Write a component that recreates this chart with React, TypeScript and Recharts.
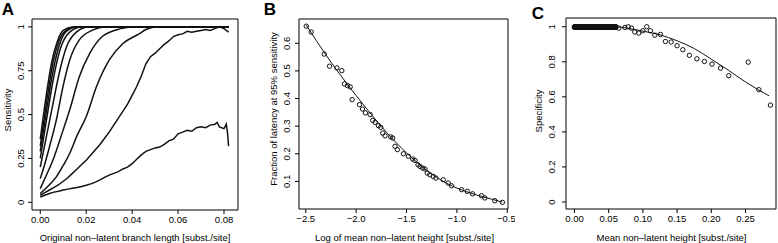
import React from 'react'
import { ComposedChart, Line, Scatter, XAxis, YAxis, ReferenceArea } from 'recharts'

const FONT = '"Liberation Sans", Arial, Helvetica, sans-serif'
const INK = '#111'

// ---- Panel A: sensitivity vs original non-latent branch length ----
// smooth curves (steepest first)
const sensA1: [number, number][] = [[0, 0.36], [0.0025, 0.6], [0.005, 0.8], [0.0075, 0.92], [0.01, 0.98], [0.014, 1], [0.082, 1]]
const sensA2: [number, number][] = [[0, 0.32], [0.0025, 0.55], [0.005, 0.76], [0.0075, 0.895], [0.01, 0.965], [0.015, 1], [0.082, 1]]
const sensA3: [number, number][] = [[0, 0.29], [0.0026, 0.51], [0.005, 0.71], [0.0075, 0.86], [0.011, 0.97], [0.016, 1], [0.082, 1]]
const sensA4: [number, number][] = [[0, 0.25], [0.0026, 0.46], [0.0055, 0.69], [0.0085, 0.865], [0.0128, 0.97], [0.018, 1], [0.082, 1]]
const sensA5: [number, number][] = [[0, 0.2], [0.0026, 0.37], [0.0055, 0.56], [0.0085, 0.75], [0.0114, 0.885], [0.0157, 0.97], [0.021, 1], [0.082, 1]]
const sensA6: [number, number][] = [[0, 0.135], [0.002, 0.22], [0.004, 0.316], [0.007, 0.47], [0.0099, 0.66], [0.0128, 0.81], [0.017, 0.926], [0.023, 0.983], [0.028, 1], [0.082, 1]]
const sensA7: [number, number][] = [[0, 0.078], [0.0025, 0.15], [0.0055, 0.24], [0.0099, 0.41], [0.0128, 0.526], [0.017, 0.716], [0.0216, 0.85], [0.027, 0.945], [0.035, 0.99], [0.04, 1], [0.082, 1]]
const sensA8: [number, number][] = [[0, 0.05], [0.004, 0.1], [0.007, 0.145], [0.01, 0.21], [0.0128, 0.278], [0.016, 0.38], [0.02, 0.488], [0.0245, 0.66], [0.03, 0.81], [0.036, 0.905], [0.043, 0.96], [0.046, 0.985], [0.05, 1], [0.082, 1]]
// noisy curves
const sensA9: [number, number][] = [
  [0, 0.04], [0.002, 0.055], [0.004, 0.07], [0.006, 0.085], [0.008, 0.1], [0.01, 0.12], [0.012, 0.14], [0.014, 0.165],
  [0.016, 0.19], [0.018, 0.215], [0.02, 0.24], [0.022, 0.27], [0.024, 0.3], [0.026, 0.33], [0.028, 0.365], [0.03, 0.4],
  [0.032, 0.44], [0.034, 0.48], [0.036, 0.52], [0.038, 0.56], [0.04, 0.61], [0.042, 0.66], [0.044, 0.72], [0.046, 0.79],
  [0.048, 0.83], [0.05, 0.85], [0.052, 0.875], [0.054, 0.9], [0.056, 0.92], [0.058, 0.945], [0.06, 0.955], [0.062, 0.96],
  [0.064, 0.975], [0.066, 0.97], [0.068, 0.975], [0.07, 0.98], [0.072, 0.985], [0.074, 0.98], [0.076, 0.99], [0.078, 1],
  [0.08, 0.99], [0.082, 0.97],
]
const sensA10: [number, number][] = [
  [0, 0.03], [0.002, 0.04], [0.004, 0.05], [0.006, 0.058], [0.008, 0.063], [0.01, 0.07], [0.012, 0.075], [0.014, 0.08],
  [0.016, 0.084], [0.018, 0.09], [0.02, 0.097], [0.022, 0.105], [0.024, 0.115], [0.026, 0.128], [0.028, 0.142], [0.03, 0.155],
  [0.032, 0.165], [0.034, 0.175], [0.036, 0.19], [0.038, 0.2], [0.04, 0.22], [0.042, 0.245], [0.044, 0.27], [0.046, 0.29],
  [0.048, 0.3], [0.05, 0.31], [0.052, 0.315], [0.054, 0.33], [0.056, 0.35], [0.058, 0.36], [0.06, 0.39], [0.062, 0.4],
  [0.064, 0.41], [0.066, 0.405], [0.068, 0.425], [0.07, 0.43], [0.072, 0.425], [0.074, 0.44], [0.076, 0.445], [0.077, 0.455],
  [0.078, 0.43], [0.08, 0.42], [0.081, 0.445], [0.0815, 0.4], [0.082, 0.32],
]
const smoothA = [sensA1, sensA2, sensA3, sensA4, sensA5, sensA6, sensA7, sensA8]
const noisyA = [sensA9, sensA10]
const ticksAx = [0, 0.02, 0.04, 0.06, 0.08]
const ticksAy = [0, 0.25, 0.5, 0.75, 1]

// ---- Panel B: fraction of latency at 95% sensitivity ----
const logHeightB = [
  -2.495, -2.446, -2.317, -2.264, -2.191, -2.142, -2.116, -2.086, -2.059, -2.04, -1.967, -1.937, -1.908, -1.861, -1.835,
  -1.812, -1.779, -1.756, -1.736, -1.713, -1.657, -1.637, -1.614, -1.591, -1.531, -1.482, -1.439, -1.416, -1.386, -1.366,
  -1.34, -1.317, -1.294, -1.268, -1.235, -1.208, -1.136, -1.086, -1.053, -0.954, -0.898, -0.845, -0.756, -0.723, -0.624,
  -0.548,
]
const fractionB = [
  0.662, 0.641, 0.561, 0.517, 0.511, 0.501, 0.453, 0.447, 0.442, 0.396, 0.378, 0.362, 0.348, 0.342, 0.321,
  0.314, 0.302, 0.296, 0.275, 0.265, 0.261, 0.257, 0.227, 0.215, 0.2, 0.191, 0.181, 0.176, 0.16, 0.154,
  0.148, 0.145, 0.13, 0.124, 0.118, 0.112, 0.106, 0.094, 0.084, 0.07, 0.064, 0.055, 0.048, 0.04, 0.03,
  0.024,
]
const fitBx = [-2.495, -2.3, -2.1, -1.9, -1.7, -1.5, -1.3, -1.1, -0.9, -0.7, -0.548]
const fitBy = [0.666, 0.558, 0.458, 0.365, 0.278, 0.203, 0.14, 0.093, 0.062, 0.04, 0.025]
const ticksBx = [-2.5, -2, -1.5, -1, -0.5]
const ticksBy = [0.1, 0.2, 0.3, 0.4, 0.5, 0.6]

// ---- Panel C: specificity vs mean non-latent height ----
// the dense run of points sitting at specificity 1
const flatHeightC = [
  0, 0.0006, 0.0012, 0.0019, 0.0025, 0.003, 0.0036, 0.0043, 0.005, 0.0055, 0.0061, 0.0067, 0.0073, 0.008, 0.0088, 0.0094,
  0.01, 0.0106, 0.0112, 0.0119, 0.0125, 0.0132, 0.0139, 0.0144, 0.015, 0.0157, 0.0163, 0.0169, 0.0175, 0.0181, 0.0188, 0.0194,
  0.02, 0.0207, 0.0214, 0.022, 0.0226, 0.0232, 0.0238, 0.0244, 0.025, 0.0257, 0.0263, 0.027, 0.0276, 0.0282, 0.0288, 0.0294,
  0.03, 0.0306, 0.0313, 0.0319, 0.0325, 0.0331, 0.0338, 0.0344, 0.035, 0.0356, 0.0362, 0.0369, 0.0375, 0.0381, 0.0388, 0.0394,
  0.04, 0.0407, 0.0413, 0.0419, 0.0425, 0.0431, 0.0437, 0.0443, 0.045, 0.0457, 0.0463, 0.047, 0.0476, 0.0482, 0.0488, 0.0494,
  0.05, 0.0506, 0.0512, 0.0519, 0.0525, 0.0531, 0.0538, 0.0544, 0.055, 0.0556, 0.0562, 0.0569, 0.0575, 0.0582, 0.059, 0.0597,
  0.0605,
]
const flatSpecC = [1, 0.998, 0.997]
const heightC = [
  0.0648, 0.0736, 0.0785, 0.0833, 0.0882, 0.094, 0.0999, 0.1057, 0.111, 0.1174, 0.1257, 0.133, 0.1413, 0.15, 0.1584,
  0.168, 0.179, 0.19, 0.201, 0.2135, 0.2256, 0.254, 0.2695, 0.2865,
]
const specC = [
  0.992, 0.996, 1.0, 0.992, 0.97, 0.964, 0.977, 1.0, 0.977, 0.952, 0.956, 0.916, 0.913, 0.892, 0.869,
  0.837, 0.817, 0.802, 0.787, 0.764, 0.721, 0.798, 0.641, 0.553,
]
const fitCx = [0, 0.06, 0.08, 0.1, 0.125, 0.15, 0.175, 0.2, 0.225, 0.25, 0.2844]
const fitCy = [1, 1, 0.99, 0.975, 0.954, 0.92, 0.876, 0.815, 0.752, 0.685, 0.606]
const ticksCx = [0, 0.05, 0.1, 0.15, 0.2, 0.25]
const ticksCy = [0, 0.2, 0.4, 0.6, 0.8, 1]

const pairs = (xs: number[], ys: number[]) => xs.map((x, i) => ({ x, y: ys[i] }))
const tuples = (t: [number, number][]) => t.map(([x, y]) => ({ x, y }))

const fmtPlain = (v: number) => String(v)
const fmtMinus = (v: number) => (v < 0 ? '\u2212' + Math.abs(v).toFixed(1) : v.toFixed(1))

// R style rotated y tick label
const vTick = (dx: number, fmt: (v: number) => string) => (props: any) => {
  const { x, y, payload } = props
  const cx = x - dx
  return (
    <text x={cx} y={y} dy="0.35em" transform={`rotate(-90, ${cx}, ${y})`} textAnchor="middle"
      fontSize={9.5} fill="#000" fontFamily={FONT}>
      {fmt(payload.value)}
    </text>
  )
}

const OpenDot = (props: any) => (
  <circle cx={props.cx} cy={props.cy} r={2.2} fill="none" stroke={INK} strokeWidth={1} />
)

const tickStyle = { fontSize: 9.5, fill: '#000', fontFamily: FONT }

function Title({ x, y, text, vertical, bold, size }: { x: number; y: number; text: string; vertical?: boolean; bold?: boolean; size?: number }) {
  return (
    <div style={{
      position: 'absolute', left: x, top: y, whiteSpace: 'nowrap', lineHeight: 1,
      fontSize: size || 9.5, fontWeight: bold ? 700 : 400, fontFamily: FONT, color: '#000',
      transform: vertical ? 'translate(-50%,-50%) rotate(-90deg)' : 'translate(-50%,-50%)',
    }}>{text}</div>
  )
}

function PanelA() {
  const xd: [number, number] = [-0.0036, 0.0861]
  const yd: [number, number] = [-0.044, 1.045]
  return (
    <div style={{ position: 'absolute', left: 0, top: 0 }}>
      <ComposedChart width={245} height={243} margin={{ top: 19, right: 7, bottom: 0, left: 0 }}>
        <XAxis type="number" dataKey="x" domain={xd} ticks={ticksAx} tickFormatter={(v: number) => v.toFixed(2)}
          height={33} tickSize={4} tickMargin={2} axisLine={false} tickLine={{ stroke: '#000' }} tick={tickStyle} allowDataOverflow />
        <YAxis type="number" dataKey="y" domain={yd} ticks={ticksAy} width={32} tickSize={4} tickMargin={2}
          axisLine={false} tickLine={{ stroke: '#000' }} tick={vTick(5, fmtPlain)} allowDataOverflow />
        <ReferenceArea x1={xd[0]} x2={xd[1]} y1={yd[0]} y2={yd[1]} fill="none" stroke="#000" strokeWidth={1} fillOpacity={0} ifOverflow="visible" />
        {smoothA.map((c, i) => (
          <Line key={`s${i}`} data={tuples(c)} dataKey="y" type="monotone" stroke={INK} strokeWidth={1.5} dot={false} isAnimationActive={false} />
        ))}
        {noisyA.map((c, i) => (
          <Line key={`n${i}`} data={tuples(c)} dataKey="y" type="linear" stroke={INK} strokeWidth={1.5} dot={false} isAnimationActive={false} />
        ))}
      </ComposedChart>
    </div>
  )
}

function PanelB() {
  const xd: [number, number] = [-2.567, -0.493]
  const yd: [number, number] = [0, 0.688]
  return (
    <div style={{ position: 'absolute', left: 260, top: 0 }}>
      <ComposedChart width={255} height={243} margin={{ top: 19, right: 7, bottom: 0, left: 0 }}>
        <XAxis type="number" dataKey="x" domain={xd} ticks={ticksBx} tickFormatter={fmtMinus}
          height={34} tickSize={4} tickMargin={2} axisLine={false} tickLine={{ stroke: '#000' }} tick={tickStyle} allowDataOverflow />
        <YAxis type="number" dataKey="y" domain={yd} ticks={ticksBy} width={39} tickSize={4} tickMargin={2}
          axisLine={false} tickLine={{ stroke: '#000' }} tick={vTick(6, (v) => v.toFixed(1))} allowDataOverflow />
        <ReferenceArea x1={xd[0]} x2={xd[1]} y1={yd[0]} y2={yd[1]} fill="none" stroke="#000" strokeWidth={1} fillOpacity={0} ifOverflow="visible" />
        <Line data={pairs(fitBx, fitBy)} dataKey="y" type="monotone" stroke={INK} strokeWidth={1} dot={false} isAnimationActive={false} />
        <Scatter data={pairs(logHeightB, fractionB)} dataKey="y" shape={OpenDot} isAnimationActive={false} />
      </ComposedChart>
    </div>
  )
}

function PanelC() {
  const xd: [number, number] = [-0.0124, 0.2946]
  const yd: [number, number] = [-0.04, 1.05]
  const flat = flatSpecC.flatMap((y) => flatHeightC.map((x) => ({ x, y })))
  return (
    <div style={{ position: 'absolute', left: 530, top: 0 }}>
      <ComposedChart width={248} height={243} margin={{ top: 18, right: 2, bottom: 0, left: 0 }}>
        <XAxis type="number" dataKey="x" domain={xd} ticks={ticksCx} tickFormatter={(v: number) => v.toFixed(2)}
          height={34} tickSize={4} tickMargin={2} axisLine={false} tickLine={{ stroke: '#000' }} tick={tickStyle} allowDataOverflow />
        <YAxis type="number" dataKey="y" domain={yd} ticks={ticksCy} width={36} tickSize={4} tickMargin={2}
          axisLine={false} tickLine={{ stroke: '#000' }} tick={vTick(8, fmtPlain)} allowDataOverflow />
        <ReferenceArea x1={xd[0]} x2={xd[1]} y1={yd[0]} y2={yd[1]} fill="none" stroke="#000" strokeWidth={1} fillOpacity={0} ifOverflow="visible" />
        <Line data={pairs(fitCx, fitCy)} dataKey="y" type="monotone" stroke={INK} strokeWidth={1} dot={false} isAnimationActive={false} />
        <Scatter data={flat} dataKey="y" shape={OpenDot} isAnimationActive={false} />
        <Scatter data={pairs(heightC, specC)} dataKey="y" shape={OpenDot} isAnimationActive={false} />
      </ComposedChart>
    </div>
  )
}

export default function App() {
  return (
    <div style={{ position: 'absolute', left: 0, top: 0, width: 778, height: 243, background: '#fff', overflow: 'hidden', fontFamily: FONT }}>
      <PanelA />
      <PanelB />
      <PanelC />
      <Title x={8} y={9} text="A" bold size={17} />
      <Title x={270} y={9} text="B" bold size={17} />
      <Title x={538} y={13} text="C" bold size={17} />
      <Title x={7.5} y={110} text="Sensitivity" vertical />
      <Title x={135} y={238} text="Original non–latent branch length [subst./site]" />
      <Title x={273.5} y={109} text="Fraction of latency at 95% sensitivity" vertical />
      <Title x={404.5} y={238} text="Log of mean non–latent height [subst./site]" />
      <Title x={539} y={111} text="Specificity" vertical />
      <Title x={671.5} y={238} text="Mean non–latent height [subst./site]" />
    </div>
  )
}
